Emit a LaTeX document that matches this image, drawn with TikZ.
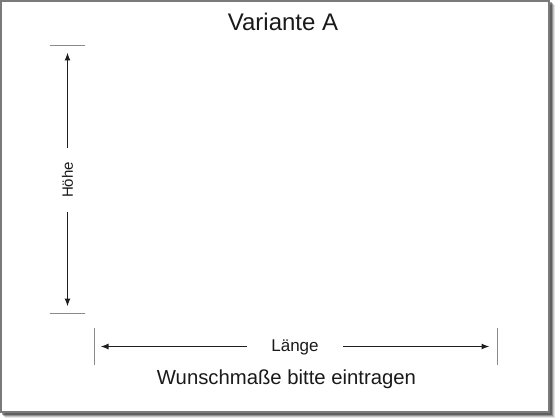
\documentclass[tikz,border=0pt]{standalone}
\usepackage{fontspec}
\setmainfont{Liberation Sans}
\usetikzlibrary{arrows.meta}
\definecolor{tickgray}{HTML}{8A8A8A}
\definecolor{arrowdark}{HTML}{1E1E1E}
\definecolor{framegray}{HTML}{7A7A7A}
\definecolor{textdark}{HTML}{1A1A1A}
\tikzset{
  tickline/.style={draw=tickgray, line width=1.3pt},
  dimarrow/.style={draw=arrowdark, line width=1.35pt, -{Latex[length=8pt,width=6pt]}},
  label/.style={inner sep=0pt, text=textdark},
}
\begin{document}
\begin{tikzpicture}[x=1pt,y=-1pt]
\useasboundingbox (0,0) rectangle (560,420);
% shadow
\fill[black, opacity=0.10] (5,5) rectangle (555,418);
\fill[black, opacity=0.15] (4,4) rectangle (554,417);
\fill[black, opacity=0.25] (3,3) rectangle (553,416);
\fill[black, opacity=0.35] (2,2) rectangle (551.5,414.5);
% frame
\draw[framegray, fill=white, line width=1.5pt] (0.8,0.8) rectangle (549,412.2);

% title
\node[label, anchor=base, font=\fontsize{24}{28}\selectfont] (title) at (283,31) {Variante A};

% vertical dimension
\coordinate (vt1) at (50,45.7);
\coordinate (vt2) at (85,45.7);
\coordinate (vb1) at (50,313.3);
\coordinate (vb2) at (85,313.3);
\draw[tickline] (vt1) -- (vt2);
\draw[tickline] (vb1) -- (vb2);
\coordinate (vtip1) at (67.5,52.5);
\coordinate (vtip2) at (67.5,306.5);
\node[label, rotate=90, inner xsep=14pt, font=\fontsize{15}{18}\selectfont] (hoehe) at (67.5,180) {Höhe};
\draw[dimarrow] (hoehe) -- (vtip1);
\draw[dimarrow] (hoehe) -- (vtip2);

% horizontal dimension
\coordinate (hl1) at (94.5,327.5);
\coordinate (hl2) at (94.5,365);
\coordinate (hr1) at (497.5,327.5);
\coordinate (hr2) at (497.5,365);
\draw[tickline] (hl1) -- (hl2);
\draw[tickline] (hr1) -- (hr2);
\coordinate (htip1) at (100.5,346.5);
\coordinate (htip2) at (489.5,346.5);
\node[label, inner xsep=24pt, font=\fontsize{17}{20}\selectfont] (laenge) at (295,347) {Länge};
\draw[dimarrow] (laenge.west |- htip1) -- (htip1);
\draw[dimarrow] (laenge.east |- htip2) -- (htip2);

% note
\node[label, anchor=base, font=\fontsize{20.3}{24}\selectfont] (note) at (286.5,384.5) {Wunschmaße bitte eintragen};
\end{tikzpicture}
\end{document}
